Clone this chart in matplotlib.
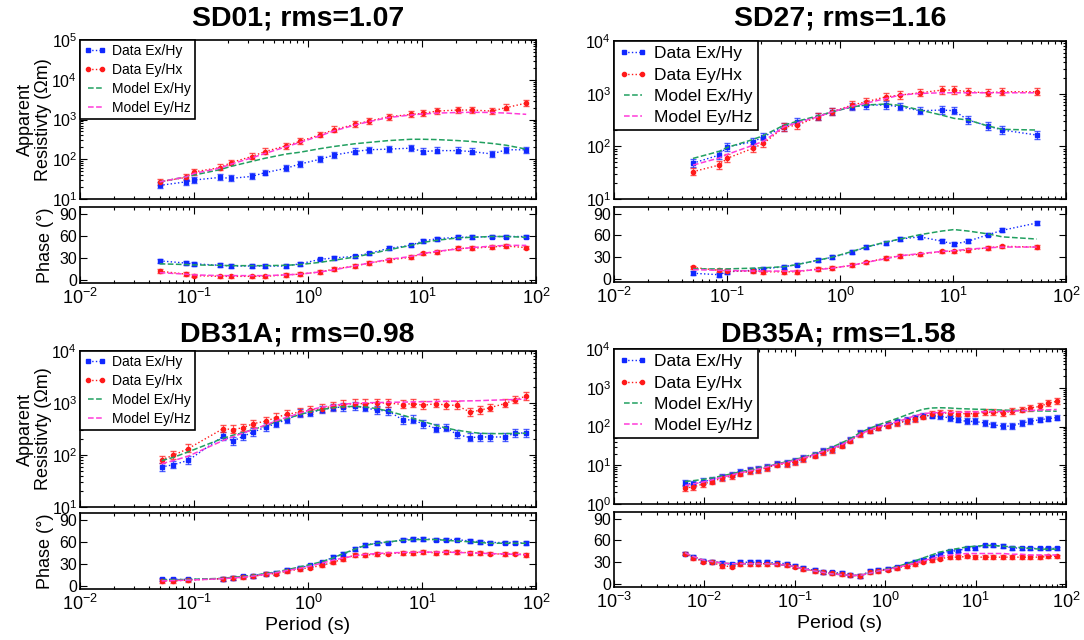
import matplotlib
matplotlib.use("Agg")
import matplotlib.pyplot as plt
from matplotlib.ticker import LogLocator, NullFormatter, FixedLocator

plt.rcParams['font.family'] = ['Liberation Sans', 'DejaVu Sans']
plt.rcParams['mathtext.fontset'] = 'custom'
plt.rcParams['mathtext.rm'] = 'Liberation Sans'
plt.rcParams['mathtext.it'] = 'Liberation Sans:italic'
plt.rcParams['mathtext.bf'] = 'Liberation Sans:bold'
plt.rcParams['mathtext.default'] = 'regular'

# ---------------- SD01 ----------------
sd01_period = [0.05, 0.085, 0.1, 0.17, 0.21, 0.32, 0.42, 0.64, 0.85, 1.28, 1.7,
               2.56, 3.4, 5.1, 8.0, 10.2, 13.6, 20.5, 27.3, 41, 55, 82]
sd01_rho_xy = [22, 27, 30, 35, 33, 37, 46, 59, 76, 100, 128, 156, 173, 180, 190,
               156, 165, 165, 156, 136, 173, 173]
sd01_rho_yx = [27, 35, 48, 62, 82, 117, 156, 218, 281, 415, 557, 750, 910, 1170,
               1340, 1430, 1630, 1730, 1730, 1630, 2000, 2580]
sd01_mod_xy = [27, 36, 40, 55, 66, 88, 106, 135, 150, 185, 210, 245, 265, 295,
               318, 318, 312, 295, 280, 250, 225, 180]
sd01_mod_yx = [27, 36, 44, 60, 75, 108, 140, 205, 265, 390, 520, 720, 880, 1120,
               1300, 1380, 1450, 1500, 1520, 1500, 1450, 1350]
sd01_ph_xy = [26, 23, 22, 20, 19, 19, 19, 19, 22, 28, 30, 32, 36, 43, 47, 53,
              56, 58, 58, 59, 59, 59]
sd01_ph_yx = [12, 8, 6, 5, 5, 5, 5, 7, 8, 11, 15, 19, 23, 27, 31, 36, 38, 43,
              43, 45, 46, 44]
sd01_phm_xy = [22, 21, 20.5, 20, 19.5, 19.5, 19.5, 20, 21, 24, 27, 31, 35, 41,
               47, 51, 54, 57, 58, 59, 59, 58]
sd01_phm_yx = [10, 8, 7, 6, 6, 6, 6, 7, 8, 11, 14, 19, 23, 28, 32, 36, 39, 42,
               44, 46, 47, 47]

# ---------------- SD27 ----------------
sd27_period = [0.05, 0.085, 0.1, 0.17, 0.21, 0.32, 0.42, 0.64, 0.85, 1.28, 1.7,
               2.56, 3.4, 5.1, 8.0, 10.2, 13.6, 20.5, 27.3, 55]
sd27_rho_xy = [48, 68, 98, 122, 152, 235, 293, 365, 454, 564, 608, 608, 564,
               474, 489, 474, 316, 243, 204, 164]
sd27_rho_yx = [33, 44, 59, 92, 114, 230, 254, 365, 454, 608, 702, 873, 940,
               1040, 1170, 1170, 1087, 1040, 1087, 1087]
sd27_mod_xy = [59, 80, 95, 135, 160, 253, 300, 380, 450, 560, 610, 635, 600,
               490, 390, 340, 316, 243, 210, 204]
sd27_mod_yx = [44, 60, 70, 105, 125, 235, 280, 365, 450, 580, 660, 810, 940,
               1010, 1040, 1040, 1040, 1040, 1040, 1040]
sd27_ph_xy = [8, 6, 10, 12, 14, 17, 20, 26, 30, 37, 44, 50, 55, 58, 52, 48, 52,
              61, 67, 77]
sd27_ph_yx = [16, 12, 11, 11, 10, 10, 10, 14, 15, 19, 23, 29, 32, 34, 38, 38,
              40, 43, 45, 44]
sd27_phm_xy = [14, 14, 14, 15, 15.5, 17, 20, 26, 30, 38, 44, 51, 55, 61, 66,
               68, 66, 62, 58, 55]
sd27_phm_yx = [13, 12, 12, 11, 11, 11, 11, 13, 15, 19, 23, 28, 32, 35, 38, 39,
               41, 43, 44, 44]

# ---------------- DB31A ----------------
db31_period = [0.052, 0.066, 0.089, 0.18, 0.22, 0.27, 0.33, 0.43, 0.52, 0.65,
               0.85, 1.04, 1.32, 1.65, 2.04, 2.58, 3.16, 4.0, 5.06, 6.85, 8.28,
               10.3, 13.4, 16.3, 20.1, 26.4, 32.3, 39.5, 53.5, 65.4, 81.7]
db31_rho_xy = [59, 65, 79, 229, 186, 229, 277, 345, 400, 480, 625, 650, 745,
               815, 835, 865, 815, 725, 705, 465, 480, 390, 322, 336, 250, 216,
               222, 222, 222, 265, 265]
db31_rho_yx = [81, 99, 133, 321, 308, 336, 400, 449, 524, 606, 669, 725, 780,
               865, 935, 975, 975, 1000, 1000, 935, 975, 905, 975, 905, 905, 669,
               725, 815, 975, 1160, 1350]
db31_mod_xy = [78, 90, 115, 210, 240, 270, 310, 370, 430, 500, 600, 680, 750,
               810, 850, 860, 840, 780, 700, 580, 510, 440, 370, 330, 300, 275,
               262, 258, 258, 260, 262]
db31_mod_yx = [68, 78, 95, 190, 225, 265, 310, 380, 450, 530, 640, 740, 830,
               900, 950, 990, 1010, 1020, 1030, 1040, 1050, 1060, 1070, 1080,
               1090, 1100, 1110, 1130, 1150, 1170, 1190]
db31_ph_xy = [9, 9, 9, 10, 11, 13, 14, 17, 18, 22, 25, 28, 32, 39, 43, 50, 56,
              58, 59, 63, 64, 64, 63, 63, 63, 61, 60, 59, 59, 59, 58]
db31_ph_yx = [7, 7, 8, 10, 11, 12, 13, 16, 17, 20, 23, 25, 28, 32, 37, 42, 42,
              43, 44, 45, 45, 46, 45, 46, 46, 45, 45, 44, 43, 44, 42]
db31_phm_xy = [8, 8.5, 9, 10.5, 12, 13, 14.5, 17, 19, 22, 26, 29, 33, 38, 44,
               50, 55, 58, 60, 62, 63, 63, 63, 62, 61, 60, 59, 58, 58, 58, 58]
db31_phm_yx = [7, 7.5, 8, 10, 11, 12, 13.5, 16, 18, 21, 24, 27, 31, 35, 38, 41,
               43, 44, 45, 45.5, 46, 46, 46, 46, 45.5, 45, 44.5, 44, 43.5, 43,
               42.5]

# ---------------- DB35A ----------------
db35_period = [0.0061, 0.0075, 0.0097, 0.0121, 0.0155, 0.020, 0.0248, 0.032,
               0.0395, 0.049, 0.063, 0.081, 0.10, 0.124, 0.167, 0.207, 0.256,
               0.33, 0.41, 0.53, 0.68, 0.84, 1.08, 1.34, 1.73, 2.14, 2.64, 3.27,
               4.04, 5.21, 6.44, 7.98, 9.84, 12.7, 15.7, 20.2, 25.1, 32.4, 40,
               51.5, 63.7, 78.9]
db35_rho_xy = [3.5, 3.2, 3.8, 4.2, 5.0, 5.7, 6.5, 7.4, 8.0, 9.0, 11, 11.4, 12.6,
               15.4, 18.7, 22.8, 26.3, 34, 45.6, 68, 82, 97, 111, 127, 144, 166,
               190, 190, 183, 166, 150, 135, 135, 123, 111, 101, 103, 123, 135,
               150, 160, 170]
db35_rho_yx = [2.6, 2.75, 3.3, 3.8, 4.6, 5.3, 6.1, 7.0, 7.6, 8.6, 10.4, 10.8,
               12, 14.6, 17.7, 21.7, 25, 32, 43, 64, 78, 93, 106, 121, 137, 158,
               180, 205, 223, 223, 215, 215, 215, 232, 232, 225, 245, 272, 300,
               330, 400, 445]
db35_mod_xy = [3.8, 4.0, 4.3, 4.7, 5.3, 6.0, 6.8, 7.6, 8.4, 9.4, 10.8, 12.3, 14,
               16, 20, 24, 29, 38, 48, 70, 90, 110, 135, 160, 200, 240, 280, 300,
               305, 300, 290, 285, 280, 275, 270, 265, 262, 258, 255, 252, 250,
               248]
db35_mod_yx = [3.0, 3.3, 3.7, 4.2, 4.9, 5.6, 6.4, 7.2, 8.0, 9.0, 10.5, 11.8,
               13.3, 15.4, 19, 23, 27, 34, 44, 64, 82, 98, 115, 132, 160, 190,
               215, 225, 230, 230, 232, 235, 238, 240, 242, 245, 250, 255, 260,
               265, 270, 275]
db35_ph_xy = [42, 37, 32, 31, 29, 27, 30, 30, 30, 30, 29, 28, 25, 22, 19, 17,
              16, 15, 13, 11, 18, 19, 21, 23, 27, 30, 33, 37, 42, 45, 46, 49, 50,
              53, 53, 52, 50, 49, 49, 49, 49, 49]
db35_ph_yx = [42, 36, 31, 30, 25, 24, 28, 28, 28, 28, 27, 26, 24, 21, 18, 16,
              15, 14, 12, 11, 17, 18, 20, 22, 25, 28, 31, 33, 35, 37, 37, 38, 37,
              37, 37, 37, 37, 37, 37, 37, 38, 38]
db35_phm_xy = [43, 38, 33, 31, 29, 28, 28, 28, 28, 28, 27, 26, 24, 21, 18, 16,
               14, 13, 12, 12, 15, 18, 21, 24, 28, 32, 36, 40, 44, 47, 49, 51,
               52, 53, 53, 52, 51, 50, 49, 48, 48, 48]
db35_phm_yx = [43, 38, 33, 31, 29, 28, 28, 28, 28, 28, 27, 26, 24, 21, 18, 16,
               14, 13, 12, 12, 15, 18, 20, 23, 26, 29, 32, 35, 38, 40, 41, 42,
               42, 42, 42, 42, 41, 41, 40, 40, 40, 40]

legend_labels = ['Data Ex/Hy', 'Data Ey/Hx', 'Model Ex/Hy', 'Model Ey/Hz']
BLUE = '#1028ff'
RED = '#ff1a1a'
GREEN = '#21a060'
MAGENTA = '#ff3ad8'

W, H = 1084, 640
fig = plt.figure(figsize=(W / 100, H / 100), dpi=100)


def box(l, t, r, b):
    return [l / W, 1 - b / H, (r - l) / W, (b - t) / H]


def style(ax, fs):
    ax.tick_params(which='both', direction='in', top=True, right=True,
                   labelsize=fs, width=0.8)
    ax.tick_params(which='major', length=5)
    ax.tick_params(which='minor', length=2.5)
    ax.tick_params(axis='y', pad=2)
    for s in ax.spines.values():
        s.set_linewidth(1.2)


def panel(res_box, ph_box, title, title_x, title_y, T, rxy, ryx, mxy, myx,
          pxy, pyx, pmxy, pmyx, xlim, rlim, left, bottom, leg_fs):
    ax = fig.add_axes(box(*res_box))
    axp = fig.add_axes(box(*ph_box))

    # resistivity
    ax.errorbar(T, rxy, yerr=[[v * 0.15 for v in rxy], [v * 0.2 for v in rxy]],
                fmt='none', ecolor=BLUE, elinewidth=0.8, capsize=2, alpha=0.75)
    ax.errorbar(T, ryx, yerr=[[v * 0.15 for v in ryx], [v * 0.2 for v in ryx]],
                fmt='none', ecolor=RED, elinewidth=0.8, capsize=2, alpha=0.75)
    ax.plot(T, rxy, ':', color=BLUE, marker='s', ms=3, lw=1, label=legend_labels[0])
    ax.plot(T, ryx, ':', color=RED, marker='o', ms=3, lw=1, label=legend_labels[1])
    ax.plot(T, mxy, '--', color=GREEN, lw=1.1, label=legend_labels[2])
    ax.plot(T, myx, '--', color=MAGENTA, lw=1.1, label=legend_labels[3])
    ax.set_xscale('log')
    ax.set_yscale('log')
    ax.set_xlim(*xlim)
    ax.set_ylim(*rlim)
    ax.yaxis.set_major_locator(LogLocator(base=10, numticks=10))
    ax.yaxis.set_minor_locator(LogLocator(base=10, subs=range(2, 10), numticks=10))
    ax.xaxis.set_major_locator(LogLocator(base=10, numticks=10))
    ax.xaxis.set_minor_locator(LogLocator(base=10, subs=range(2, 10), numticks=10))
    ax.xaxis.set_major_formatter(NullFormatter())
    ax.xaxis.set_minor_formatter(NullFormatter())
    ax.yaxis.set_minor_formatter(NullFormatter())
    style(ax, 11.5)
    leg = ax.legend(loc='upper left', fontsize=leg_fs, numpoints=2,
                    handlelength=1.6, labelspacing=0.35, borderaxespad=0,
                    borderpad=0.3, handletextpad=0.4, fancybox=False,
                    framealpha=1, edgecolor='black')
    leg.get_frame().set_linewidth(1.2)

    # phase
    axp.errorbar(T, pxy, yerr=2.5, fmt='none', ecolor=BLUE, elinewidth=0.8,
                 capsize=2, alpha=0.75)
    axp.errorbar(T, pyx, yerr=2.5, fmt='none', ecolor=RED, elinewidth=0.8,
                 capsize=2, alpha=0.75)
    axp.plot(T, pxy, ':', color=BLUE, marker='s', ms=3, lw=1)
    axp.plot(T, pyx, ':', color=RED, marker='o', ms=3, lw=1)
    axp.plot(T, pmxy, '--', color=GREEN, lw=1.1)
    axp.plot(T, pmyx, '--', color=MAGENTA, lw=1.1)
    axp.set_xscale('log')
    axp.set_xlim(*xlim)
    axp.set_ylim(-4, 99)
    axp.yaxis.set_major_locator(FixedLocator([0, 30, 60, 90]))
    axp.xaxis.set_major_locator(LogLocator(base=10, numticks=10))
    axp.xaxis.set_minor_locator(LogLocator(base=10, subs=range(2, 10), numticks=10))
    axp.xaxis.set_minor_formatter(NullFormatter())
    style(axp, 11.5)
    axp.tick_params(axis='x', labelsize=13)

    if left:
        ax.set_ylabel('Apparent\nResistivty (\u03a9m)', fontsize=13,
                      linespacing=1.05)
        ax.yaxis.set_label_coords(-0.062, 0.5)
        axp.set_ylabel('Phase (\u00b0)', fontsize=13)
        axp.yaxis.set_label_coords(-0.058, 0.5)
    if bottom:
        axp.set_xlabel('Period (s)', fontsize=14, labelpad=2)

    fig.text(title_x / W, 1 - title_y / H, title, ha='center', va='center',
             fontsize=20.5, fontweight='bold')


panel((80, 40, 536, 199), (80, 207, 536, 283), 'SD01; rms=1.07', 298, 19,
      sd01_period, sd01_rho_xy, sd01_rho_yx, sd01_mod_xy, sd01_mod_yx,
      sd01_ph_xy, sd01_ph_yx, sd01_phm_xy, sd01_phm_yx,
      (1e-2, 1e2), (1e1, 1e5), True, False, 10)
panel((614, 41, 1066, 199), (614, 207, 1066, 282), 'SD27; rms=1.16', 840, 19,
      sd27_period, sd27_rho_xy, sd27_rho_yx, sd27_mod_xy, sd27_mod_yx,
      sd27_ph_xy, sd27_ph_yx, sd27_phm_xy, sd27_phm_yx,
      (1e-2, 1e2), (1e1, 1e4), False, False, 12.5)
panel((80, 351, 536, 507), (80, 513, 536, 589), 'DB31A; rms=0.98', 297, 335,
      db31_period, db31_rho_xy, db31_rho_yx, db31_mod_xy, db31_mod_yx,
      db31_ph_xy, db31_ph_yx, db31_phm_xy, db31_phm_yx,
      (1e-2, 1e2), (1e1, 1e4), True, True, 10)
panel((614, 349, 1066, 504), (614, 512, 1066, 587), 'DB35A; rms=1.58', 838, 335,
      db35_period, db35_rho_xy, db35_rho_yx, db35_mod_xy, db35_mod_yx,
      db35_ph_xy, db35_ph_yx, db35_phm_xy, db35_phm_yx,
      (1e-3, 1e2), (1e0, 1e4), False, True, 12.5)

fig.savefig('out.png', dpi=100)
